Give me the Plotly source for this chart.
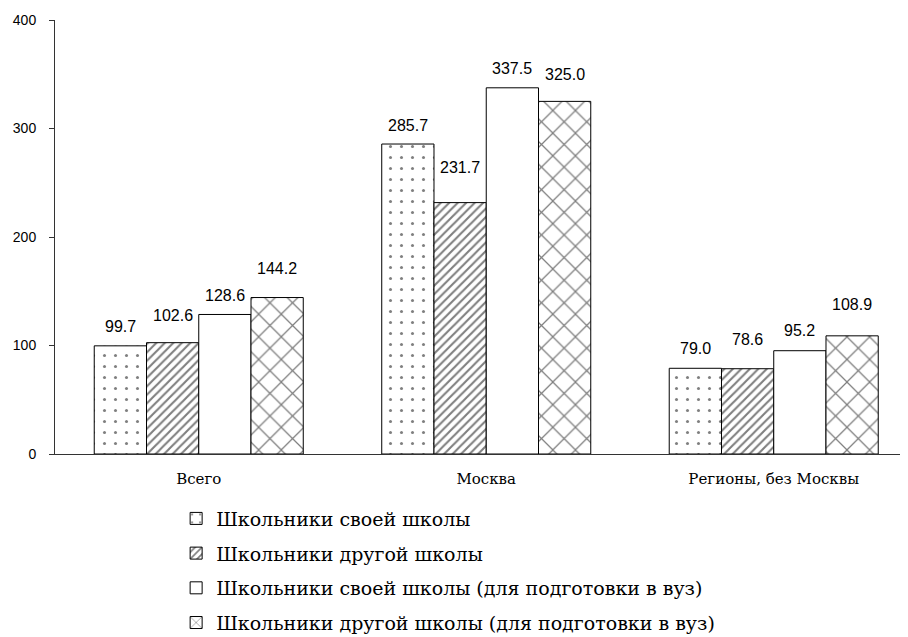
import plotly.graph_objects as go

categories = ["Всего", "Москва", "Регионы, без Москвы"]
series_names = [
    "Школьники своей школы",
    "Школьники другой школы",
    "Школьники своей школы (для подготовки в вуз)",
    "Школьники другой школы (для подготовки в вуз)",
]
s_own = [99.7, 285.7, 79.0]
s_other = [102.6, 231.7, 78.6]
s_own_prep = [128.6, 337.5, 95.2]
s_other_prep = [144.2, 325.0, 108.9]
series_values = [s_own, s_other, s_own_prep, s_other_prep]
y_ticks = [0, 100, 200, 300, 400]

# style
patterns = [
    dict(shape=".", size=11, solidity=0.06, fgcolor="black", bgcolor="white"),
    dict(shape="/", size=6, solidity=0.35, fgcolor="black", bgcolor="white"),
    dict(shape="", fgcolor="black", bgcolor="white"),
    dict(shape="x", size=16, solidity=0.15, fgcolor="black", bgcolor="white"),
]
label_lift = [[19, 27, 19, 29], [19, 35, 19, 27], [20, 29, 20, 31]]  # px above bar top
bargap = 0.273

fig = go.Figure()
for i, (name, vals) in enumerate(zip(series_names, series_values)):
    fig.add_trace(go.Bar(
        x=categories, y=vals, name=name,
        marker=dict(color="white", pattern=patterns[i], line=dict(color="black", width=1)),
        legendgroup=f"g{i}",
    ))

bw = (1 - bargap) / len(series_values)
for ci in range(len(categories)):
    for si, vals in enumerate(series_values):
        fig.add_annotation(
            x=ci + (si - (len(series_values) - 1) / 2) * bw, y=vals[ci],
            text=f"{vals[ci]:.1f}", showarrow=False, yanchor="middle",
            yshift=label_lift[ci][si],
            font=dict(family="Liberation Sans, Arial", size=16, color="black"),
        )

# page body has an 8px default margin, so the figure is 900x629
fig.update_layout(
    width=900, height=629,
    margin=dict(l=47, r=0, t=12, b=183, autoexpand=False),
    paper_bgcolor="white", plot_bgcolor="white",
    barmode="group", bargap=bargap, bargroupgap=0,
    showlegend=True,
    legend=dict(
        x=0.142, y=-0.105, xanchor="left", yanchor="top",
        font=dict(family="DejaVu Serif", size=19, color="black"),
        tracegroupgap=7, traceorder="grouped",
        bgcolor="rgba(0,0,0,0)",
    ),
    xaxis=dict(
        type="category", range=[-0.5, 2.467],
        showline=True, linecolor="#333", linewidth=1,
        ticks="outside", ticklen=11, tickcolor="rgba(0,0,0,0)", showgrid=False,
        tickfont=dict(family="DejaVu Serif", size=15, color="black"),
    ),
    yaxis=dict(
        range=[0, 400], tickvals=y_ticks,
        showline=True, linecolor="#333", linewidth=1,
        ticks="outside", ticklen=5, tickcolor="#333",
        ticklabelstandoff=10,
        showgrid=False, zeroline=False,
        tickfont=dict(family="Liberation Sans, Arial", size=14, color="black"),
    ),
)

fig.write_html("out.html")
